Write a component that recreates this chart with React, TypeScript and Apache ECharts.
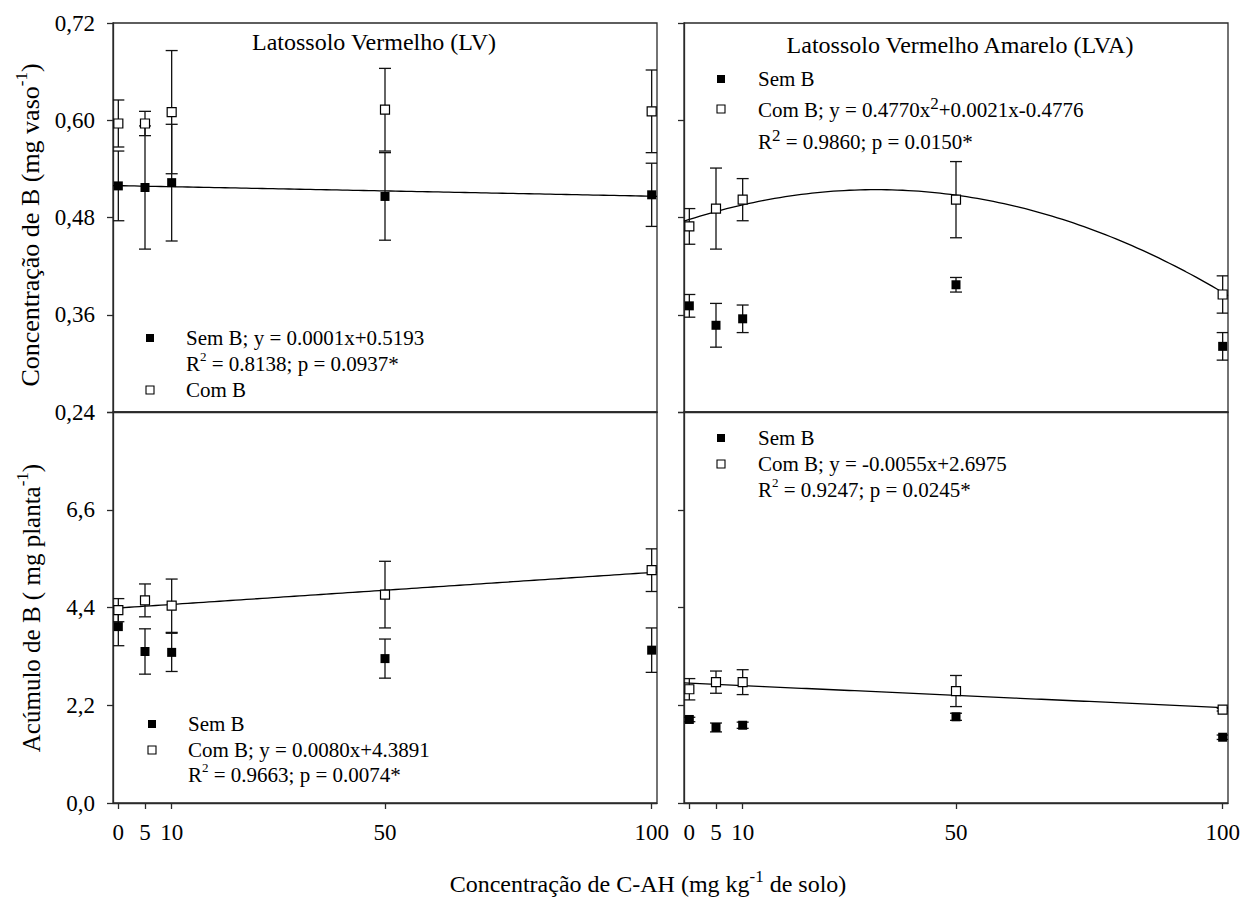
import React, { useEffect, useRef } from 'react';
import * as echarts from 'echarts';

// ---------------- data ----------------
const doses = [0, 5, 10, 50, 100];
const xTickLabels = ['0', '5', '10', '50', '100'];

// Latossolo Vermelho (LV) - concentração de B (mg vaso-1)
const lvConcSem = [0.519, 0.517, 0.523, 0.506, 0.508];
const lvConcSemErr = [0.043, 0.076, 0.072, 0.054, 0.039];
const lvConcCom = [0.596, 0.596, 0.61, 0.613, 0.611];
const lvConcComErr = [0.029, 0.015, 0.076, 0.051, 0.051];

// Latossolo Vermelho Amarelo (LVA) - concentração de B
const lvaConcSem = [0.371, 0.347, 0.355, 0.397, 0.321];
const lvaConcSemErr = [0.014, 0.027, 0.017, 0.009, 0.017];
const lvaConcCom = [0.469, 0.491, 0.502, 0.502, 0.385];
const lvaConcComErr = [0.022, 0.05, 0.026, 0.047, 0.023];

// LV - acúmulo de B (mg planta-1)
const lvAcSem = [3.97, 3.41, 3.39, 3.25, 3.44];
const lvAcSemErr = [0.43, 0.51, 0.43, 0.44, 0.5];
const lvAcCom = [4.34, 4.56, 4.44, 4.69, 5.24];
const lvAcComErr = [0.26, 0.37, 0.6, 0.75, 0.48];

// LVA - acúmulo de B
const lvaAcSem = [1.88, 1.7, 1.75, 1.94, 1.48];
const lvaAcSemErr = [0.05, 0.1, 0.07, 0.08, 0.05];
const lvaAcCom = [2.56, 2.72, 2.72, 2.52, 2.1];
const lvaAcComErr = [0.24, 0.25, 0.28, 0.35, 0.03];

// fitted curves: [intercept, linear, quadratic]
const lvConcSemFit = [0.5193, -0.00013, 0];
const lvaConcComFit = [0.4776, 0.0021, -0.00003];
const lvAcComFit = [4.3891, 0.008, 0];
const lvaAcComFit = [2.6975, -0.0055, 0];

// ---------------- styles ----------------
const FONT = 'Liberation Serif, Times New Roman, Times, serif';
const AX = '#2a2a2a';
const X_MIN = -1;
const X_MAX = 101;

function fitLine(coef: number[], gi: number) {
  const pts: number[][] = [];
  for (let x = X_MIN; x <= X_MAX; x += 1) {
    pts.push([x, coef[0] + coef[1] * x + coef[2] * x * x]);
  }
  return {
    type: 'line',
    xAxisIndex: gi,
    yAxisIndex: gi,
    data: pts,
    showSymbol: false,
    symbol: 'none',
    smooth: false,
    lineStyle: { color: '#000', width: 1.3 },
    z: 1,
    silent: true,
  };
}

function errSeries(vals: number[], errs: number[], gi: number) {
  return {
    type: 'custom',
    xAxisIndex: gi,
    yAxisIndex: gi,
    data: doses.map((d, i) => [d, vals[i] - errs[i], vals[i] + errs[i]]),
    encode: { x: 0, y: [1, 2] },
    clip: true,
    silent: true,
    z: 2,
    renderItem: (params: any, api: any) => {
      const x = api.value(0);
      const lo = api.coord([x, api.value(1)]);
      const hi = api.coord([x, api.value(2)]);
      const hw = 6;
      const style = { stroke: '#111', lineWidth: 1.3, fill: null };
      return {
        type: 'group',
        children: [
          { type: 'line', shape: { x1: lo[0], y1: lo[1], x2: hi[0], y2: hi[1] }, style },
          { type: 'line', shape: { x1: lo[0] - hw, y1: lo[1], x2: lo[0] + hw, y2: lo[1] }, style },
          { type: 'line', shape: { x1: hi[0] - hw, y1: hi[1], x2: hi[0] + hw, y2: hi[1] }, style },
        ],
      };
    },
  };
}

function pts(vals: number[], gi: number, open: boolean) {
  return {
    type: 'scatter',
    xAxisIndex: gi,
    yAxisIndex: gi,
    data: doses.map((d, i) => [d, vals[i]]),
    symbol: 'rect',
    symbolSize: 9,
    itemStyle: open
      ? { color: '#fff', borderColor: '#000', borderWidth: 1.2, opacity: 1 }
      : { color: '#000', opacity: 1 },
    z: open ? 4 : 3,
    silent: true,
  };
}

const rich = (size: number, supSize: number, lh: number) => ({
  n: {
    fontSize: size,
    fontFamily: FONT,
    font: `${size}px ${FONT}`,
    fill: '#000',
    color: '#000',
    lineHeight: lh,
    verticalAlign: 'middle',
  },
  s: {
    fontSize: supSize,
    fontFamily: FONT,
    font: `${supSize}px ${FONT}`,
    fill: '#000',
    color: '#000',
    lineHeight: supSize,
    verticalAlign: 'top',
  },
});

function text(x: number, y: number, t: string, size: number, opts: any = {}) {
  const align = opts.align || 'left';
  return {
    type: 'text',
    x,
    y,
    rotation: opts.rotation || 0,
    silent: true,
    z: 10,
    style: {
      text: t,
      font: `${size}px ${FONT}`,
      fontSize: size,
      fontFamily: FONT,
      fill: '#000',
      align,
      textAlign: align,
      verticalAlign: 'middle',
      textVerticalAlign: 'middle',
      rich: opts.rich,
    },
  };
}

function marker(cx: number, cy: number, open: boolean) {
  return {
    type: 'rect',
    silent: true,
    z: 10,
    shape: { x: cx - 4, y: cy - 4, width: 8, height: 8 },
    style: open ? { fill: '#fff', stroke: '#000', lineWidth: 1.1 } : { fill: '#000' },
  };
}

export default function App() {
  const ref = useRef<HTMLDivElement>(null);

  useEffect(() => {
    if (!ref.current) return;
    const chart = echarts.init(ref.current, undefined, { renderer: 'svg' });

    const gridPos = [
      { left: 113, top: 23, width: 544, height: 389 },
      { left: 684, top: 23, width: 544, height: 389 },
      { left: 113, top: 412, width: 544, height: 391 },
      { left: 684, top: 412, width: 544, height: 391 },
    ];
    const grid = gridPos.map((g) => ({
      ...g,
      show: true,
      borderColor: AX,
      borderWidth: 1.3,
      backgroundColor: 'transparent',
      containLabel: false,
    }));

    const lineStyle = { color: AX, width: 1.3 };

    const xAxis = gridPos.map((_, i) => ({
      type: 'value',
      gridIndex: i,
      min: X_MIN,
      max: X_MAX,
      splitLine: { show: false },
      axisLine: { show: true, onZero: false, lineStyle },
      axisTick: { show: i >= 2, inside: false, length: 6, customValues: doses, lineStyle },
      axisLabel: {
        show: i >= 2,
        customValues: doses,
        margin: 18,
        fontSize: 23,
        fontFamily: FONT,
        color: '#000',
        formatter: (v: number) => xTickLabels[doses.indexOf(v)] ?? String(v),
      },
    }));

    const yAxis = gridPos.map((_, i) => {
      const top = i < 2;
      return {
        type: 'value',
        gridIndex: i,
        min: top ? 0.24 : 0,
        max: top ? 0.72 : 8.8,
        interval: top ? 0.12 : 2.2,
        splitLine: { show: false },
        axisLine: { show: true, onZero: false, lineStyle },
        axisTick: { show: true, inside: false, length: 6, lineStyle },
        axisLabel: {
          show: i === 0 || i === 2,
          margin: 18,
          fontSize: 23,
          fontFamily: FONT,
          color: '#000',
          showMinLabel: true,
          showMaxLabel: true,
          formatter: (v: number) =>
            top ? v.toFixed(2).replace('.', ',') : v > 8.7 ? '' : v.toFixed(1).replace('.', ','),
        },
      };
    });

    const series: any[] = [
      fitLine(lvConcSemFit, 0),
      fitLine(lvaConcComFit, 1),
      fitLine(lvAcComFit, 2),
      fitLine(lvaAcComFit, 3),

      errSeries(lvConcSem, lvConcSemErr, 0),
      errSeries(lvConcCom, lvConcComErr, 0),
      errSeries(lvaConcSem, lvaConcSemErr, 1),
      errSeries(lvaConcCom, lvaConcComErr, 1),
      errSeries(lvAcSem, lvAcSemErr, 2),
      errSeries(lvAcCom, lvAcComErr, 2),
      errSeries(lvaAcSem, lvaAcSemErr, 3),
      errSeries(lvaAcCom, lvaAcComErr, 3),

      pts(lvConcSem, 0, false),
      pts(lvConcCom, 0, true),
      pts(lvaConcSem, 1, false),
      pts(lvaConcCom, 1, true),
      pts(lvAcSem, 2, false),
      pts(lvAcCom, 2, true),
      pts(lvaAcSem, 3, false),
      pts(lvaAcCom, 3, true),
    ];

    const LG = 21;
    const smallSup = rich(LG, 13, 28);
    const bigSup = rich(LG, 17, 30);

    const graphic: any[] = [
      // panel titles
      text(374, 42, 'Latossolo Vermelho (LV)', 24, { align: 'center' }),
      text(960, 45, 'Latossolo Vermelho Amarelo (LVA)', 24, { align: 'center' }),

      // LV concentração legend
      marker(150, 338, false),
      text(186, 338, 'Sem B; y = 0.0001x+0.5193', LG),
      text(186, 364, '{n|R}{s|2}{n| = 0.8138; p = 0.0937*}', LG, { rich: smallSup }),
      marker(150, 390, true),
      text(186, 390, 'Com B', LG),

      // LVA concentração legend
      marker(721, 79, false),
      text(758, 79, 'Sem B', LG),
      marker(721, 109, true),
      text(758, 110, '{n|Com B; y = 0.4770x}{s|2}{n|+0.0021x-0.4776}', LG, { rich: bigSup }),
      text(758, 142, '{n|R}{s|2}{n| = 0.9860; p = 0.0150*}', LG, { rich: bigSup }),

      // LV acúmulo legend
      marker(152, 724, false),
      text(188, 724, 'Sem B', LG),
      marker(152, 750, true),
      text(188, 750, 'Com B; y = 0.0080x+4.3891', LG),
      text(188, 775, '{n|R}{s|2}{n| = 0.9663; p = 0.0074*}', LG, { rich: smallSup }),

      // LVA acúmulo legend
      marker(721, 438, false),
      text(758, 438, 'Sem B', LG),
      marker(721, 464, true),
      text(758, 464, 'Com B; y = -0.0055x+2.6975', LG),
      text(758, 490, '{n|R}{s|2}{n| = 0.9247; p = 0.0245*}', LG, { rich: smallSup }),

      // axis titles
      text(30, 225, '{n|Concentração de B (mg vaso}{s|-1}{n|)}', 26, {
        align: 'center',
        rotation: Math.PI / 2,
        rich: rich(26, 17, 34),
      }),
      text(31, 608, '{n|Acúmulo de B ( mg planta}{s|-1}{n|)}', 25, {
        align: 'center',
        rotation: Math.PI / 2,
        rich: rich(25, 17, 34),
      }),
      text(648, 884, '{n|Concentração de C-AH (mg kg}{s|-1}{n| de solo)}', 24, {
        align: 'center',
        rich: rich(24, 17, 32),
      }),
    ];

    chart.setOption({
      animation: false,
      backgroundColor: '#fff',
      grid,
      xAxis,
      yAxis,
      series,
      graphic,
    });

    return () => {
      chart.dispose();
    };
  }, []);

  return (
    <div
      ref={ref}
      style={{ position: 'fixed', left: 0, top: 0, width: 1246, height: 897, background: '#fff' }}
    />
  );
}
